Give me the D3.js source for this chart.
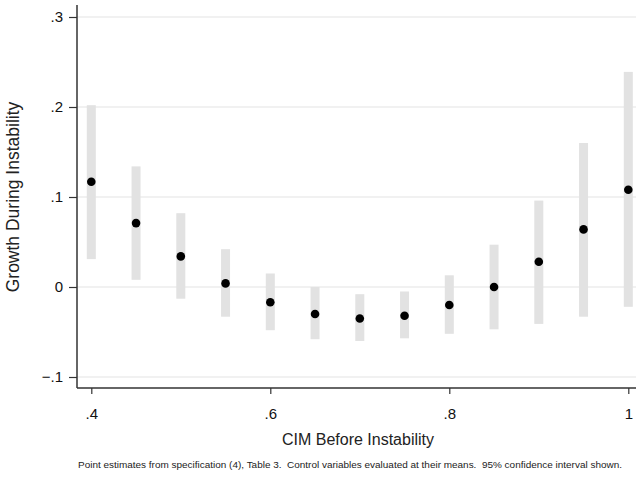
<!DOCTYPE html>
<html>
<head>
<meta charset="utf-8">
<script src="https://cdn.jsdelivr.net/npm/d3@7"></script>
<style>
  body { margin: 0; background: #fff; }
  svg { display: block; font-family: "Liberation Sans", Arial, sans-serif; }
</style>
</head>
<body>
<svg id="chart" width="636" height="477"></svg>
<script>
"use strict";

// CIM levels where the marginal effect was evaluated
var cim = [0.40, 0.45, 0.50, 0.55, 0.60, 0.65, 0.70, 0.75, 0.80, 0.85, 0.90, 0.95, 1.00];
// point estimates
var estimate = [0.117, 0.071, 0.034, 0.004, -0.017, -0.030, -0.035, -0.032, -0.020, 0.000, 0.028, 0.064, 0.108];
// 95% confidence bounds
var ciLow = [0.031, 0.008, -0.013, -0.033, -0.048, -0.058, -0.060, -0.057, -0.052, -0.047, -0.041, -0.033, -0.022];
var ciHigh = [0.202, 0.134, 0.082, 0.042, 0.015, 0.000, -0.008, -0.005, 0.013, 0.047, 0.096, 0.160, 0.239];

var xTicks = [0.4, 0.6, 0.8, 1.0];
var xTickLabels = [".4", ".6", ".8", "1"];
var yTicks = [-0.1, 0, 0.1, 0.2, 0.3];
var yTickLabels = ["\u2212.1", "0", ".1", ".2", ".3"];

var svg = d3.select('#chart');

// plot area edges (axis lines)
var plotLeft = 77, plotRight = 636, plotTop = 5, plotBottom = 388;

var x = d3.scaleLinear().domain([0.4, 1.0]).range([91.3, 628.3]);
var y = d3.scaleLinear().domain([-0.1, 0.3]).range([377, 17]);

// gridlines
svg.append('g')
  .selectAll('line')
  .data(yTicks)
  .enter()
  .append('line')
  .attr('x1', plotLeft)
  .attr('x2', plotRight)
  .attr('y1', d => y(d))
  .attr('y2', d => y(d))
  .attr('stroke', '#ececec')
  .attr('stroke-width', 1.5);

var pts = cim.map((c, i) => ({ x: c, est: estimate[i], lo: ciLow[i], hi: ciHigh[i] }));

// confidence intervals as thick light bars
svg.append('g')
  .selectAll('rect')
  .data(pts)
  .enter()
  .append('rect')
  .attr('x', d => x(d.x) - 4.5)
  .attr('width', 9)
  .attr('y', d => y(d.hi))
  .attr('height', d => y(d.lo) - y(d.hi))
  .attr('fill', '#e2e2e2');

// point estimates
svg.append('g')
  .selectAll('circle')
  .data(pts)
  .enter()
  .append('circle')
  .attr('cx', d => x(d.x))
  .attr('cy', d => y(d.est))
  .attr('r', 4.3)
  .attr('fill', '#000');

// y axis
var yAxis = d3.axisLeft(y)
  .tickValues(yTicks)
  .tickSize(8)
  .tickPadding(6)
  .tickFormat((d, i) => yTickLabels[i]);

var gy = svg.append('g')
  .attr('transform', 'translate(' + plotLeft + ',0)')
  .call(yAxis);
gy.select('.domain').remove();
gy.append('line')
  .attr('x1', 0).attr('x2', 0)
  .attr('y1', plotTop).attr('y2', plotBottom)
  .attr('stroke', '#333')
  .attr('stroke-width', 1.5);
gy.selectAll('.tick line').attr('stroke', '#333').attr('stroke-width', 1.2);
gy.selectAll('.tick text')
  .attr('font-size', 15)
  .attr('fill', '#111')
  .attr('font-family', '"Liberation Sans", Arial, sans-serif');

// x axis
var xAxis = d3.axisBottom(x)
  .tickValues(xTicks)
  .tickSize(6)
  .tickPadding(14)
  .tickFormat((d, i) => xTickLabels[i]);

var gx = svg.append('g')
  .attr('transform', 'translate(0,' + plotBottom + ')')
  .call(xAxis);
gx.select('.domain').remove();
gx.append('line')
  .attr('x1', plotLeft).attr('x2', plotRight)
  .attr('y1', 0).attr('y2', 0)
  .attr('stroke', '#333')
  .attr('stroke-width', 1.5);
gx.selectAll('.tick line').attr('stroke', '#333').attr('stroke-width', 1.2);
gx.selectAll('.tick text')
  .attr('font-size', 15)
  .attr('fill', '#111')
  .attr('font-family', '"Liberation Sans", Arial, sans-serif');

// axis titles
svg.append('text')
  .attr('transform', 'translate(19,' + y(0.1) + ') rotate(-90)')
  .attr('text-anchor', 'middle')
  .attr('font-size', 17.5)
  .attr('fill', '#222')
  .text('Growth During Instability');

svg.append('text')
  .attr('x', 358)
  .attr('y', 445)
  .attr('text-anchor', 'middle')
  .attr('font-size', 16)
  .attr('fill', '#222')
  .text('CIM Before Instability');

// note
svg.append('text')
  .attr('x', 350)
  .attr('y', 468)
  .attr('text-anchor', 'middle')
  .attr('font-size', 9.3)
  .attr('textLength', 544)
  .attr('lengthAdjust', 'spacingAndGlyphs')
  .attr('fill', '#222')
  .style('white-space', 'pre')
  .text('Point estimates from specification (4), Table 3.  Control variables evaluated at their means.  95% confidence interval shown.');
</script>
</body>
</html>
